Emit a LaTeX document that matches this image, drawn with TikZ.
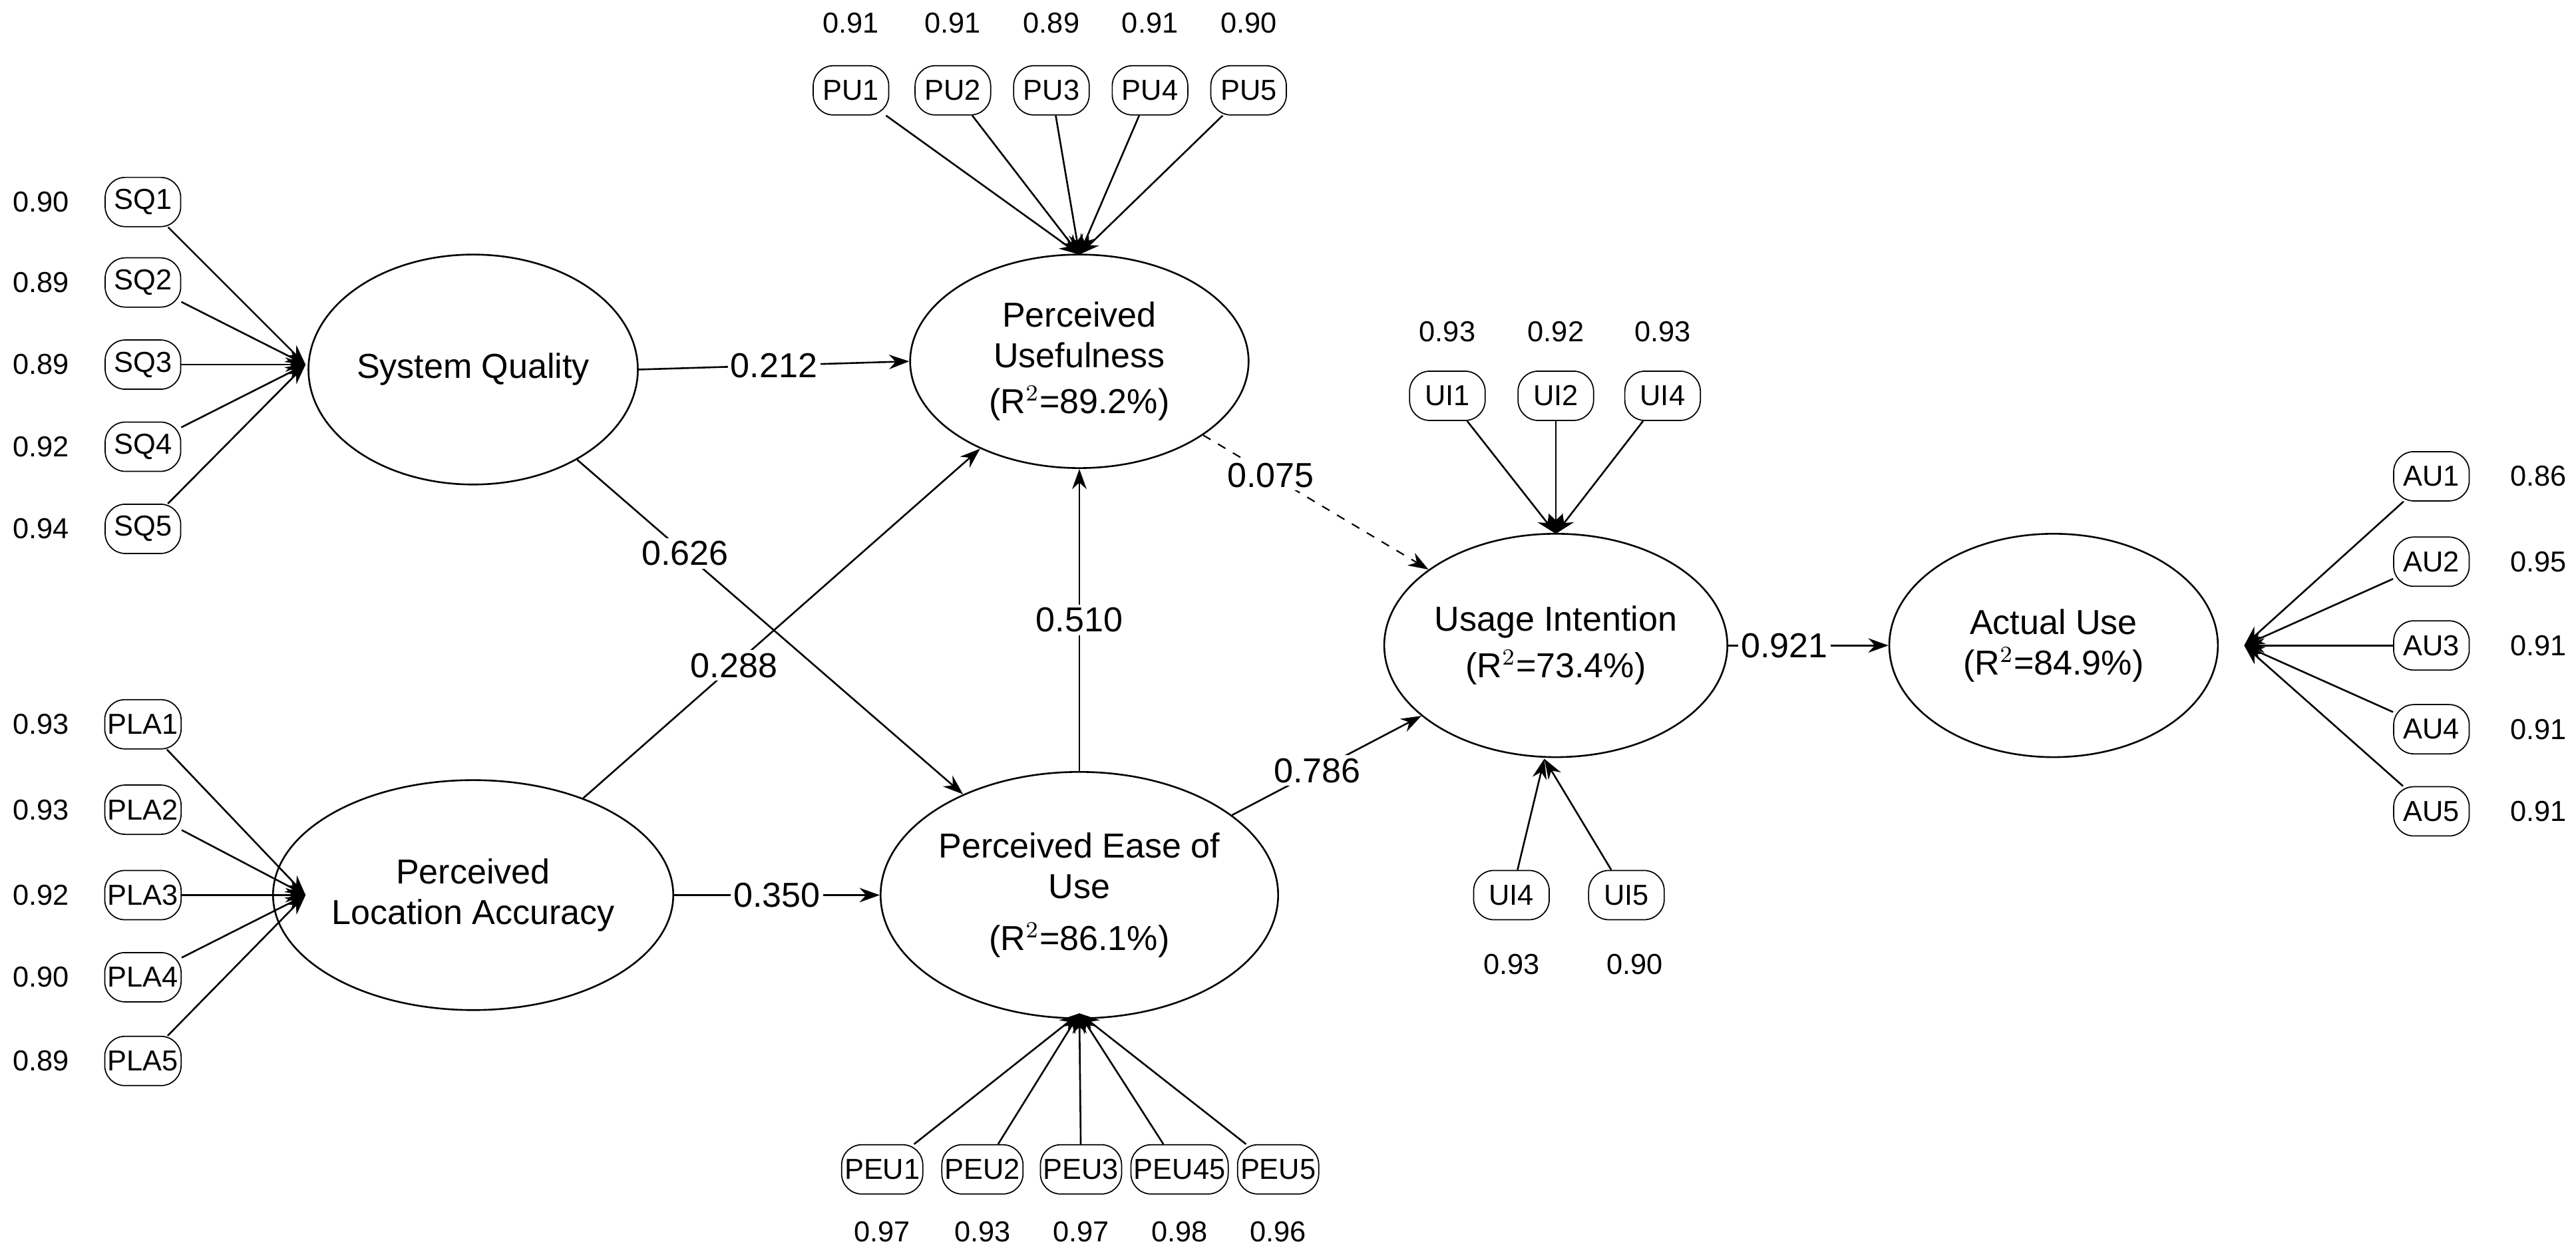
\documentclass[tikz,border=0pt]{standalone}
\usepackage{fontspec}
\setmainfont{Liberation Sans}
\usetikzlibrary{arrows.meta,shapes.geometric}
\begin{document}
\begin{tikzpicture}[x=0.02cm,y=-0.02cm,
 ind/.style={draw,rounded corners=7pt,minimum width=46*0.02cm,minimum height=30*0.02cm,inner sep=1pt,font=\fontsize{10}{12}\selectfont},
 val/.style={font=\fontsize{10}{12}\selectfont},
 arr/.style={-{Stealth[length=7pt,width=5pt]},line width=0.6pt},
 lab/.style={fill=white,inner sep=1pt,font=\fontsize{12}{14}\selectfont}]
\useasboundingbox (0,0) rectangle (1568,767);
\tikzset{el/.style={draw,ellipse,line width=0.6pt,align=center,font=\fontsize{12}{14}\selectfont,inner sep=0pt}}
\node[el,minimum width=200*0.02cm,minimum height=140*0.02cm] (SQ) at (288,225) {System Quality};
\node[el,minimum width=200*0.02cm,minimum height=140*0.02cm] (PLA) at (288,545) {Perceived\\Location Accuracy};
\node[el,minimum width=206*0.02cm,minimum height=130*0.02cm] (PU) at (657,220) {Perceived\\Usefulness\\[2pt](R$^2$=89.2\%)};
\node[el,minimum width=206*0.02cm,minimum height=150*0.02cm] (PEU) at (657,545) {Perceived Ease of\\Use\\[4pt](R$^2$=86.1\%)};
\node[el,minimum width=200*0.02cm,minimum height=136*0.02cm] (UI) at (947,393) {Usage Intention\\[2pt](R$^2$=73.4\%)};
\node[el,minimum width=200*0.02cm,minimum height=136*0.02cm] (AU) at (1250,393) {Actual Use\\(R$^2$=84.9\%)};
\coordinate (sqp) at (186,222);
\coordinate (plap) at (186,545);
\coordinate (pup) at (657,155);
\coordinate (peup) at (657,617);
\coordinate (uit) at (947,325);
\coordinate (uib) at (940,462);
\coordinate (aup) at (1366,393);
\foreach \i/\y/\v in {1/123/0.90,2/172/0.89,3/222/0.89,4/272/0.92,5/322/0.94}{
 \node[ind] (SQ\i) at (87,\y) {SQ\i};
 \node[val] (vsq\i) at (25,\y) {\v};
 \draw[arr] (SQ\i) -- (sqp);}
\foreach \i/\y/\v in {1/441/0.93,2/493/0.93,3/545/0.92,4/595/0.90,5/646/0.89}{
 \node[ind] (PLA\i) at (87,\y) {PLA\i};
 \node[val] (vpla\i) at (25,\y) {\v};
 \draw[arr] (PLA\i) -- (plap);}
\foreach \i/\x/\v in {1/518/0.91,2/580/0.91,3/640/0.89,4/700/0.91,5/760/0.90}{
 \node[ind] (PU\i) at (\x,55) {PU\i};
 \node[val] (vpu\i) at (\x,14) {\v};
 \draw[arr] (PU\i) -- (pup);}
\foreach \i/\x/\v in {1/537/0.97,2/598/0.93,3/658/0.97,4/718/0.98,5/778/0.96}{
 \node[val] (vpeu\i) at (\x,750) {\v};}
\node[ind] (PEU1) at (537,712) {PEU1};
\node[ind] (PEU2) at (598,712) {PEU2};
\node[ind] (PEU3) at (658,712) {PEU3};
\node[ind] (PEU4) at (718,712) {PEU45};
\node[ind] (PEU5) at (778,712) {PEU5};
\foreach \i in {1,...,5}{\draw[arr] (PEU\i) -- (peup);}
\node[ind] (UI1) at (881,241) {UI1}; \node[val] at (881,202) {0.93};
\node[ind] (UI2) at (947,241) {UI2}; \node[val] at (947,202) {0.92};
\node[ind] (UI4) at (1012,241) {UI4}; \node[val] at (1012,202) {0.93};
\foreach \n in {UI1,UI2,UI4}{\draw[arr] (\n) -- (uit);}
\node[ind] (UI4b) at (920,545) {UI4}; \node[val] at (920,587) {0.93};
\node[ind] (UI5) at (990,545) {UI5}; \node[val] at (995,587) {0.90};
\foreach \n in {UI4b,UI5}{\draw[arr] (\n) -- (uib);}
\foreach \i/\y/\v in {1/290/0.86,2/342/0.95,3/393/0.91,4/444/0.91,5/494/0.91}{
 \node[ind] (AU\i) at (1480,\y) {AU\i};
 \node[val] (vau\i) at (1545,\y) {\v};
 \draw[arr] (AU\i) -- (aup);}
\draw[arr] (SQ.east) -- node[lab]{0.212} (PU.west);
\draw[arr] (SQ) -- node[lab,pos=0.28]{0.626} (PEU);
\draw[arr] (PLA) -- node[lab,pos=0.38]{0.288} (PU);
\draw[arr] (PLA.east) -- node[lab]{0.350} (PEU.west);
\draw[arr] (PEU) -- node[lab]{0.510} (PU);
\draw[arr,dashed,line width=0.5pt] (PU) -- node[lab,pos=0.3]{0.075} (UI);
\draw[arr] (PEU) -- node[lab,pos=0.45]{0.786} (UI);
\draw[arr] (UI.east) -- node[lab,pos=0.35]{0.921} (AU.west);
\end{tikzpicture}
\end{document}
